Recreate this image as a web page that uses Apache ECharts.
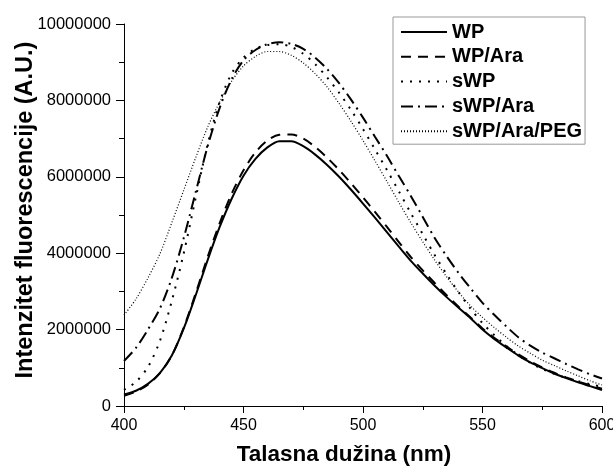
<!DOCTYPE html>
<html><head><meta charset="utf-8">
<script src="https://cdn.jsdelivr.net/npm/echarts@6/dist/echarts.min.js"></script>
<style>html,body{margin:0;padding:0;background:#fff}#c{width:613px;height:466px}</style>
</head><body><div id="c"></div>
<script>
// wavelengths (nm)
var wavelengths = [400,405,410,415,420,425,430,435,440,445,450,455,460,465,470,475,480,485,490,495,500,505,510,515,520,525,530,535,540,545,550,555,560,565,570,575,580,585,590,595,600];
// intensities in millions A.U.
var WP = [0.30,0.40,0.58,0.86,1.32,2.03,2.90,3.82,4.68,5.42,6.03,6.47,6.77,6.93,6.93,6.80,6.58,6.31,6.00,5.66,5.30,4.93,4.55,4.17,3.80,3.47,3.15,2.85,2.57,2.30,2.00,1.75,1.53,1.32,1.14,0.99,0.85,0.73,0.62,0.52,0.42];
var WP_Ara = [0.27,0.38,0.56,0.86,1.32,2.05,2.95,3.90,4.78,5.55,6.17,6.64,6.95,7.10,7.11,7.00,6.78,6.50,6.18,5.83,5.46,5.08,4.69,4.29,3.90,3.55,3.22,2.90,2.60,2.32,2.03,1.78,1.56,1.35,1.17,1.01,0.87,0.75,0.64,0.54,0.45];
var sWP = [0.42,0.63,1.02,1.70,2.75,4.00,5.45,6.85,7.95,8.70,9.12,9.35,9.45,9.47,9.40,9.22,8.95,8.60,8.20,7.75,7.25,6.72,6.18,5.62,5.05,4.50,3.95,3.45,2.98,2.55,2.17,1.85,1.57,1.33,1.13,0.97,0.84,0.74,0.65,0.57,0.50];
var sWP_Ara = [1.18,1.52,2.00,2.55,3.35,4.40,5.60,6.80,7.80,8.55,9.05,9.32,9.47,9.52,9.48,9.35,9.12,8.82,8.45,8.02,7.55,7.05,6.55,6.02,5.50,4.95,4.40,3.92,3.48,3.08,2.70,2.38,2.08,1.80,1.58,1.40,1.25,1.10,0.96,0.83,0.72];
var sWP_Ara_PEG = [2.38,2.80,3.35,3.98,4.80,5.65,6.50,7.30,7.95,8.50,8.90,9.15,9.28,9.28,9.18,8.98,8.70,8.35,7.92,7.45,6.95,6.42,5.88,5.33,4.80,4.30,3.82,3.38,2.98,2.62,2.32,2.05,1.80,1.57,1.38,1.20,1.06,0.92,0.79,0.66,0.55];
var yTickLabels = ['0','2000000','4000000','6000000','8000000','10000000'];
var seriesNames = ['WP','WP/Ara','sWP','sWP/Ara','sWP/Ara/PEG'];
var seriesValues = [WP, WP_Ara, sWP, sWP_Ara, sWP_Ara_PEG];
var dashes = ['solid',[10,7],[2,7],[12,5,2,5],[1,2]];
var widths = [2,2,2,2,1.2];

var font = '"Liberation Sans", Arial, sans-serif';
var series = seriesNames.map(function(n,i){
  return {
    name:n, type:'line', symbol:'none', smooth:0.3,
    lineStyle:{color:'#000', width:widths[i], type:dashes[i], cap:'butt'},
    itemStyle:{color:'#000'},
    data: wavelengths.map(function(x,k){return [x, seriesValues[i][k]*1e6];})
  };
});
var chart = echarts.init(document.getElementById('c'), null, {renderer:'canvas'});
chart.setOption({
  backgroundColor:'#fff',
  animation:false,
  grid:{left:124, right:11, top:24, bottom:60, containLabel:false, outerBoundsMode:'none'},
  legend:{
    left:393, top:17, orient:'vertical', align:'left',
    padding:[5,3,3,7], itemGap:4.8, itemWidth:46, itemHeight:14,
    borderColor:'#999', borderWidth:1, backgroundColor:'#fff',
    itemStyle:{opacity:0},
    textStyle:{fontFamily:font, fontSize:20, fontWeight:'bold', color:'#000'},
    data:seriesNames
  },
  xAxis:{
    type:'value', min:400, max:600, interval:50,
    name:'Talasna dužina (nm)', nameLocation:'middle', nameGap:37, nameMoveOverlap:false,
    nameTextStyle:{fontFamily:font, fontSize:22.5, fontWeight:'bold', color:'#000', padding:[0,38,0,0]},
    axisLine:{lineStyle:{color:'#000', width:1}},
    axisTick:{inside:false, length:7, lineStyle:{color:'#000'}},
    minorTick:{show:true, splitNumber:2, length:4, lineStyle:{color:'#000'}},
    splitLine:{show:false},
    axisLabel:{fontFamily:font, fontSize:16, color:'#000', margin:12, hideOverlap:false}
  },
  yAxis:{
    type:'value', min:0, max:10000000, interval:2000000,
    name:'Intenzitet fluorescencije (A.U.)', nameLocation:'middle', nameGap:86, nameMoveOverlap:false,
    nameTextStyle:{fontFamily:font, fontSize:23.5, fontWeight:'bold', color:'#000', padding:[0,0,0,10]},
    axisLine:{show:true, lineStyle:{color:'#000', width:1}},
    axisTick:{show:true, inside:false, length:8, lineStyle:{color:'#000'}},
    minorTick:{show:true, splitNumber:2, length:5, lineStyle:{color:'#000'}},
    splitLine:{show:false},
    axisLabel:{fontFamily:font, fontSize:16.5, color:'#000', margin:13,
      formatter:function(v){ return yTickLabels[Math.round(v/2000000)]; }}
  },
  series:series
});
</script></body></html>
